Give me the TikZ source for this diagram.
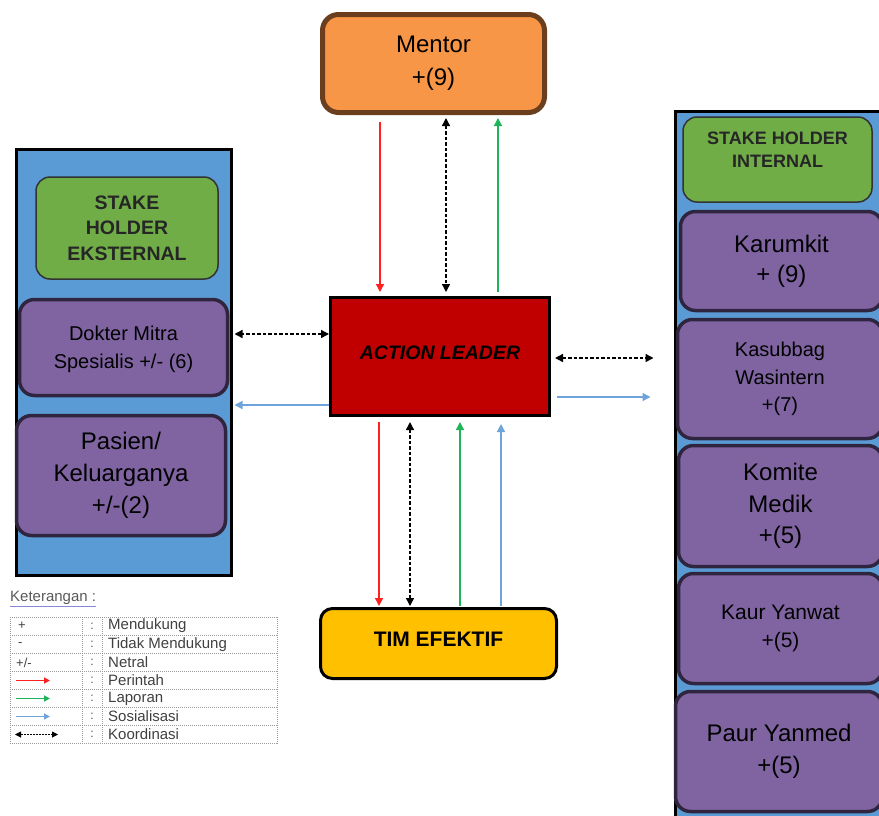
\documentclass[tikz,border=0pt]{standalone}
\usepackage{fontspec}
\setmainfont{Liberation Sans}
\usetikzlibrary{arrows.meta,calc}
\definecolor{orangeC}{HTML}{F79646}
\definecolor{brownC}{HTML}{6B3F1D}
\definecolor{panelC}{HTML}{5B9BD5}
\definecolor{greenC}{HTML}{70AD47}
\definecolor{purpleC}{HTML}{8064A2}
\definecolor{purpleD}{HTML}{30253F}
\definecolor{redC}{HTML}{C00000}
\definecolor{yellowC}{HTML}{FFC000}
\definecolor{arrRed}{HTML}{FF2020}
\definecolor{arrGreen}{HTML}{1EB45A}
\definecolor{arrBlue}{HTML}{6FA3DB}
\definecolor{ulC}{HTML}{8C86D8}
\tikzset{
  tip/.tip={Triangle[length=8pt,width=8pt]},
  panel/.style={draw=black, fill=panelC, line width=3pt, inner sep=0pt},
  greenbox/.style={draw=black!80, fill=greenC, line width=1.5pt, rounded corners=14pt, align=center, inner sep=0pt, text=black!85},
  purplebox/.style={draw=purpleD, fill=purpleC, line width=3.5pt, rounded corners=15pt, align=center, inner sep=0pt},
  arr/.style={line width=1.4pt, -tip},
  redarr/.style={arr, draw=arrRed, fill=arrRed},
  greenarr/.style={arr, draw=arrGreen, fill=arrGreen},
  bluearr/.style={arr, draw=arrBlue, fill=arrBlue},
  coordarr/.style={line width=1.4pt, dash pattern=on 3.5pt off 2pt, tip-tip},
  legtext/.style={anchor=west, inner sep=0pt, font=\fontsize{15}{16}\selectfont, text=black!75},
  legline/.style={draw=black!40, line width=0.6pt, dash pattern=on 1pt off 1pt},
}
\begin{document}
\begin{tikzpicture}[x=1pt,y=-1pt]
\useasboundingbox (0,0) rectangle (879,815);
\clip (0,0) rectangle (879,815);

% panels
\node[panel, minimum width=215pt, minimum height=426pt] (lpanel) at (123.5,362) {};
\node[panel, minimum width=225pt, minimum height=719pt] (rpanel) at (787.5,470.5) {};

% left column
\node[greenbox, minimum width=182pt, minimum height=102pt, font=\fontsize{19.5}{25.5}\selectfont\bfseries] (ext) at (127,228) {STAKE\\HOLDER\\EKSTERNAL};
\node[purplebox, minimum width=208pt, minimum height=96pt, text depth=-4pt, font=\fontsize{20}{28}\selectfont] (dokter) at (123.5,347.5) {Dokter Mitra\\Spesialis +/- (6)};
\node[purplebox, minimum width=209pt, minimum height=120pt, font=\fontsize{24}{32}\selectfont] (pasien) at (121,475.5) {Pasien/\\Keluarganya\\+/-(2)};

% right column
\node[greenbox, minimum width=189pt, minimum height=85pt, text depth=20pt, font=\fontsize{18}{23}\selectfont\bfseries] (int) at (777.5,159.5) {STAKE HOLDER\\INTERNAL};
\node[purplebox, minimum width=202pt, minimum height=99pt, font=\fontsize{24}{30}\selectfont] (karumkit) at (781.5,261) {Karumkit\\+ (9)};
\node[purplebox, minimum width=205pt, minimum height=119pt, font=\fontsize{20}{27.5}\selectfont] (kasubbag) at (780,379) {Kasubbag\\Wasintern\\+(7)};
\node[purplebox, minimum width=204pt, minimum height=121pt, font=\fontsize{24}{31.5}\selectfont] (komite) at (780.5,506) {Komite\\Medik\\+(5)};
\node[purplebox, minimum width=204pt, minimum height=110pt, font=\fontsize{21}{28}\selectfont] (kaur) at (780.5,628.5) {Kaur Yanwat\\+(5)};
\node[purplebox, minimum width=207pt, minimum height=120pt, font=\fontsize{24}{32}\selectfont] (paur) at (779,751.5) {Paur Yanmed\\+(5)};

% centre
\node[draw=brownC, fill=orangeC, line width=5pt, rounded corners=16pt, minimum width=222pt, minimum height=98pt, align=center, inner sep=0pt, font=\fontsize{24}{33}\selectfont] (mentor) at (433.5,63.5) {Mentor\\+(9)};
\node[draw=black, fill=redC, line width=3pt, minimum width=219pt, minimum height=118pt, inner sep=0pt, text depth=8pt, font=\fontsize{19.5}{22}\selectfont\bfseries\itshape] (al) at (440,356.5) {ACTION LEADER};
\node[draw=black, fill=yellowC, line width=3pt, rounded corners=12pt, minimum width=236pt, minimum height=70pt, inner sep=0pt, text depth=9pt, font=\fontsize{21}{24}\selectfont\bfseries] (tim) at (438.5,643.5) {TIM EFEKTIF};

% guide coordinates
\coordinate (xr1) at (380,0);
\coordinate (xk1) at (446,0);
\coordinate (xg1) at (498,0);
\coordinate (xr2) at (379,0);
\coordinate (xk2) at (410,0);
\coordinate (xg2) at (460,0);
\coordinate (xb2) at (501,0);
\coordinate (yk3) at (0,334);
\coordinate (yb3) at (0,405);
\coordinate (yk4) at (0,358);
\coordinate (yb4) at (0,397);

% mentor <-> action leader
\draw[redarr, shorten <=7pt, shorten >=4pt] (mentor.south -| xr1) -- (al.north -| xr1);
\draw[coordarr, shorten <=3pt, shorten >=4pt] (mentor.south -| xk1) -- (al.north -| xk1);
\draw[greenarr, shorten <=4pt, shorten >=3pt] (al.north -| xg1) -- (mentor.south -| xg1);

% action leader <-> tim efektif
\draw[redarr, shorten <=5pt, shorten >=1pt] (al.south -| xr2) -- (tim.north -| xr2);
\draw[coordarr, shorten <=5pt, shorten >=1pt] (al.south -| xk2) -- (tim.north -| xk2);
\draw[greenarr, shorten <=1pt, shorten >=5pt] (tim.north -| xg2) -- (al.south -| xg2);
\draw[bluearr, shorten <=1pt, shorten >=7pt] (tim.north -| xb2) -- (al.south -| xb2);

% left side
\draw[coordarr, shorten <=0pt, shorten >=2pt] (al.west |- yk3) -- (lpanel.east |- yk3);
\draw[bluearr, shorten <=0pt, shorten >=2pt] (al.west |- yb3) -- (lpanel.east |- yb3);

% right side
\draw[coordarr, shorten <=4pt, shorten >=20pt] (al.east |- yk4) -- (rpanel.west |- yk4);
\draw[bluearr, shorten <=6pt, shorten >=23pt] (al.east |- yb4) -- (rpanel.west |- yb4);

% legend
\node[anchor=west, inner sep=0pt, font=\fontsize{15}{16}\selectfont, text=black!65] (ket) at (10,598) {Keterangan :};
\draw[ulC, line width=1pt] ([yshift=-2pt]ket.south west) -- ([yshift=-2pt]ket.south east);
\foreach \yy in {617,635.5,653.5,671.5,689.5,707.5,725.5,743.5}
  \draw[legline] (10,\yy) -- (277,\yy);
\foreach \xx in {10,82,102,277}
  \draw[legline] (\xx,617) -- (\xx,743.5);
\foreach \yy/\nm in {626/c1,644.5/c2,662.5/c3,680.5/c4,698.5/c5,716.5/c6,734.5/c7}
  \node[inner sep=0pt, font=\fontsize{12}{14}\selectfont, text=black!70] (\nm) at (92,\yy) {:};
\node[legtext, font=\fontsize{13}{14}\selectfont] (s1) at (18,626) {+};
\node[legtext, font=\fontsize{13}{14}\selectfont] (s2) at (18,644.5) {-};
\node[legtext, font=\fontsize{13}{14}\selectfont] (s3) at (16,662.5) {+/-};
\node[legtext] (t1) at (108,626) {Mendukung};
\node[legtext] (t2) at (108,644.5) {Tidak Mendukung};
\node[legtext] (t3) at (108,662.5) {Netral};
\node[legtext] (t4) at (108,680.5) {Perintah};
\node[legtext] (t5) at (108,698.5) {Laporan};
\node[legtext] (t6) at (108,716.5) {Sosialisasi};
\node[legtext] (t7) at (108,734.5) {Koordinasi};
\tikzset{ltip/.tip={Triangle[length=6pt,width=6pt]}}
\draw[draw=arrRed, fill=arrRed, line width=1.8pt, -ltip] (16,680.5) -- (50,680.5);
\draw[draw=arrGreen, fill=arrGreen, line width=1.8pt, -ltip] (16,698.5) -- (50,698.5);
\draw[draw=arrBlue, fill=arrBlue, line width=1.8pt, -ltip] (16,716.5) -- (50,716.5);
\draw[line width=1pt, dash pattern=on 2pt off 1pt, ltip-ltip] (15,734.5) -- (58,734.5);
\end{tikzpicture}
\end{document}
